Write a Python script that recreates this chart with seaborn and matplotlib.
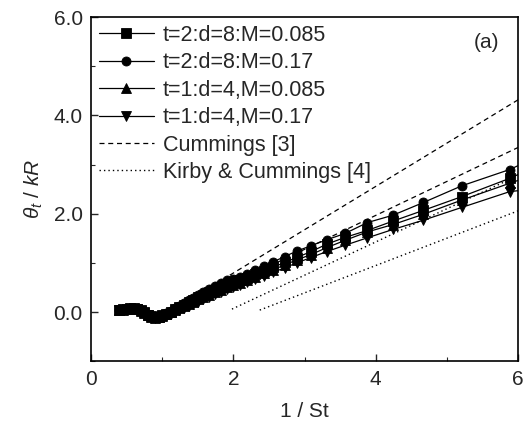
import numpy as np
import pandas as pd
import matplotlib
matplotlib.use("Agg")
import matplotlib.pyplot as plt
import seaborn as sns

# ---- data ----
inv_st = [0.40, 0.45, 0.50, 0.55, 0.60, 0.65, 0.70, 0.75, 0.80, 0.85, 0.90, 0.95,
          1.00, 1.06, 1.12, 1.18, 1.24, 1.30, 1.37, 1.44, 1.51, 1.58, 1.66, 1.74,
          1.82, 1.91, 2.00, 2.09, 2.19, 2.30, 2.43, 2.56, 2.72, 2.89, 3.09, 3.31,
          3.57, 3.88, 4.24, 4.67, 5.21, 5.88, 6.00]

y_t2_m085 = [0.05, 0.06, 0.07, 0.08, 0.08, 0.07, 0.04, 0.00, -0.05, -0.09, -0.11, -0.10,
             -0.07, -0.03, 0.01, 0.06, 0.10, 0.15, 0.20, 0.25, 0.30, 0.35, 0.40, 0.45,
             0.50, 0.56, 0.61, 0.65, 0.70, 0.77, 0.84, 0.91, 1.01, 1.11, 1.23, 1.38,
             1.52, 1.66, 1.85, 2.07, 2.35, 2.72, 2.80]
y_t2_m017 = [0.05, 0.06, 0.07, 0.08, 0.08, 0.07, 0.04, 0.00, -0.05, -0.09, -0.11, -0.10,
             -0.06, -0.02, 0.03, 0.08, 0.13, 0.18, 0.24, 0.29, 0.35, 0.41, 0.47, 0.53,
             0.59, 0.65, 0.68, 0.72, 0.78, 0.86, 0.93, 1.02, 1.13, 1.24, 1.35, 1.47,
             1.60, 1.82, 1.97, 2.23, 2.57, 2.90, 2.98]
y_t1_m085 = [0.04, 0.05, 0.06, 0.07, 0.07, 0.06, 0.03, -0.01, -0.06, -0.10, -0.12, -0.11,
             -0.08, -0.04, 0.00, 0.04, 0.08, 0.12, 0.17, 0.21, 0.26, 0.31, 0.35, 0.40,
             0.45, 0.50, 0.56, 0.60, 0.66, 0.72, 0.79, 0.86, 0.96, 1.06, 1.17, 1.31,
             1.46, 1.63, 1.78, 1.99, 2.28, 2.62, 2.68]
y_t1_m017 = [0.04, 0.05, 0.06, 0.07, 0.07, 0.06, 0.03, -0.01, -0.06, -0.10, -0.12, -0.11,
             -0.09, -0.06, -0.03, 0.01, 0.05, 0.09, 0.13, 0.17, 0.21, 0.26, 0.31, 0.36,
             0.41, 0.47, 0.52, 0.56, 0.61, 0.67, 0.74, 0.81, 0.90, 1.00, 1.11, 1.23,
             1.36, 1.51, 1.68, 1.87, 2.13, 2.45, 2.47]

series_labels = ["t=2:d=8:M=0.085", "t=2:d=8:M=0.17", "t=1:d=4,M=0.085", "t=1:d=4,M=0.17"]
series_markers = ["s", "o", "^", "v"]

# Cummings [3] (two dashed lines) and Kirby & Cummings [4] (two dotted lines)
cummings_x = [[1.95, 6.0], [1.95, 6.0]]
cummings_y = [[0.75, 4.32], [0.55, 3.35]]
kirby_x = [[1.98, 6.0], [2.37, 6.0]]
kirby_y = [[0.06, 2.78], [0.04, 2.06]]

tick_x = [0, 2, 4, 6]
tick_y = [0.0, 2.0, 4.0, 6.0]

# ---- style ----
sns.set_style("ticks")
plt.rcParams["font.family"] = ["Liberation Sans", "DejaVu Sans"]
plt.rcParams["mathtext.fontset"] = "custom"
plt.rcParams["mathtext.it"] = "Liberation Sans:italic"
plt.rcParams["mathtext.rm"] = "Liberation Sans"

fig = plt.figure(figsize=(5.32, 4.30), dpi=100)
ax = fig.add_axes([0.171, 0.160, 0.803, 0.800])

ys = [y_t2_m085, y_t2_m017, y_t1_m085, y_t1_m017]
for yv, lab, mk in zip(ys, series_labels, series_markers):
    sns.lineplot(x=inv_st, y=yv, ax=ax, color="black", lw=0.9, marker=mk,
                 markersize=6.5, markeredgewidth=0.6, markeredgecolor="black",
                 markerfacecolor="black", markevery=slice(0, -1),
                 label=lab, estimator=None, sort=False)

for i, (xx, yy) in enumerate(zip(cummings_x, cummings_y)):
    sns.lineplot(x=xx, y=yy, ax=ax, color="black", lw=0.9,
                 linestyle=(0, (4, 3)), label="Cummings [3]" if i == 0 else None,
                 estimator=None, sort=False)
for i, (xx, yy) in enumerate(zip(kirby_x, kirby_y)):
    sns.lineplot(x=xx, y=yy, ax=ax, color="black", lw=1.0,
                 linestyle=(0, (1, 2.2)), label="Kirby & Cummings [4]" if i == 0 else None,
                 estimator=None, sort=False)

ax.set_xlim(0, 6)
ax.set_ylim(-1, 6)
ax.set_xticks(tick_x)
ax.set_xticklabels([str(t) for t in tick_x])
ax.set_yticks(tick_y)
ax.set_yticklabels([f"{t:.1f}" for t in tick_y])
ax.set_xticks([1, 3, 5], minor=True)
ax.set_yticks([-1, 1, 3, 5], minor=True)
ax.tick_params(which="major", direction="in", length=5, width=1, labelsize=15, pad=6)
ax.tick_params(which="minor", direction="in", length=3, width=0.8)
for s in ax.spines.values():
    s.set_linewidth(1.2)
    s.set_color("black")

ax.set_xlabel("1 / St", fontsize=15, labelpad=10)
ax.set_ylabel(r"$\theta_t$ / $kR$", fontsize=15, labelpad=6)

ax.text(0.955, 0.925, "(a)", transform=ax.transAxes, fontsize=15,
        ha="right", va="center")

leg = ax.legend(loc="upper left", frameon=False, fontsize=15.5, handlelength=2.6,
                handletextpad=0.4, labelspacing=0.3, borderaxespad=0.25,
                borderpad=0.1)

fig.savefig("out.png", dpi=100)
